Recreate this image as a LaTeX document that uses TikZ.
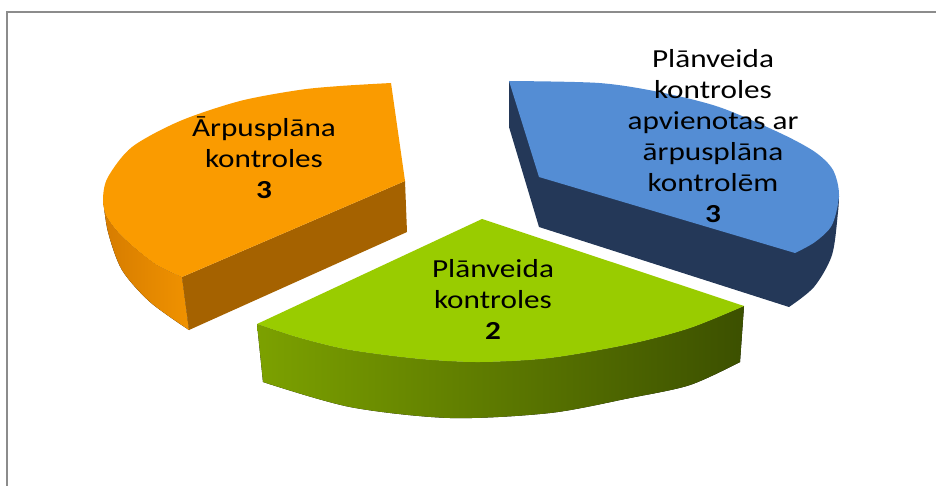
\documentclass[tikz,border=0pt]{standalone}
\usepackage{fontspec}
\newfontfamily\chartfont{Carlito}[FakeStretch=1.2]
\usepackage{xcolor}
\definecolor{frameGray}{RGB}{140,140,140}
\definecolor{orangeTop}{RGB}{250,155,0}
\definecolor{orangeFace}{RGB}{165,98,0}
\definecolor{orangeSideL}{RGB}{214,124,0}
\definecolor{orangeSideR}{RGB}{240,146,0}
\definecolor{blueTop}{RGB}{84,141,212}
\definecolor{blueDark}{RGB}{36,56,88}
\definecolor{greenTop}{RGB}{153,204,0}
\definecolor{greenSideL}{RGB}{124,161,0}
\definecolor{greenSideR}{RGB}{60,80,0}

\tikzset{slicetext/.style={align=center, inner sep=0pt, text=black,
  font=\chartfont\fontsize{26}{31}\selectfont}}

\begin{document}
\begin{tikzpicture}[x=1pt, y=-1pt]
\useasboundingbox (0,0) rectangle (936,486);
\draw[frameGray, line width=2pt] (7,486) -- (7,12) -- (936,12);

% orange slice
\fill[left color=orangeSideL, right color=orangeSideR]
  plot[smooth] coordinates {(103,198) (106,215) (118,232) (135,248) (157,265) (182,277)}
  -- (189,330)
  -- plot[smooth] coordinates {(189,330) (150,302) (122,270) (108,232) (103,198)} -- cycle;
\fill[orangeFace] (405,181) -- (182,277) -- (189,330) -- (407,232) -- cycle;
\fill[orangeTop] (405,181) -- (391,83)
  -- plot[smooth] coordinates {(391,83) (340,86) (299,90) (240,101) (180,121) (132,147)
     (108,177) (103,198) (106,215) (118,232) (135,248) (157,265) (182,277)} -- cycle;

% blue slice
\fill[blueDark] (509,81) -- (509,127) -- (539,227) -- (789,307)
  -- plot[smooth] coordinates {(789,307) (814,287) (832,255) (838,212) (839,196)} -- cycle;
\fill[blueTop] (539,177) -- (509,81)
  -- plot[smooth] coordinates {(509,81) (599,83) (659,92) (719,107) (780,133) (815,152)
     (833,170) (839,195) (832,225) (815,242) (795,253)} -- cycle;

% green slice
\fill[left color=greenSideL, right color=greenSideR]
  plot[smooth] coordinates {(257,324) (300,338) (350,350) (420,359) (480,362) (550,358)
     (630,344) (690,328) (744,306)}
  -- (740,362)
  -- plot[smooth] coordinates {(740,362) (690,385) (630,398) (550,413) (450,418) (350,407) (263,382)} -- cycle;
\fill[greenTop] (482,219) -- (744,306)
  -- plot[smooth] coordinates {(744,306) (690,328) (630,344) (550,358) (480,362) (420,359)
     (350,350) (300,338) (257,324)} -- cycle;

\node[slicetext] (orangeLbl) at (264,158) {Ārpusplāna\\kontroles\\\textbf{3}};
\node[slicetext] (blueLbl) at (713,136) {Plānveida\\kontroles\\apvienotas ar\\ārpusplāna\\kontrolēm\\\textbf{3}};
\node[slicetext] (greenLbl) at (493,299) {Plānveida\\kontroles\\\textbf{2}};
\end{tikzpicture}
\end{document}
